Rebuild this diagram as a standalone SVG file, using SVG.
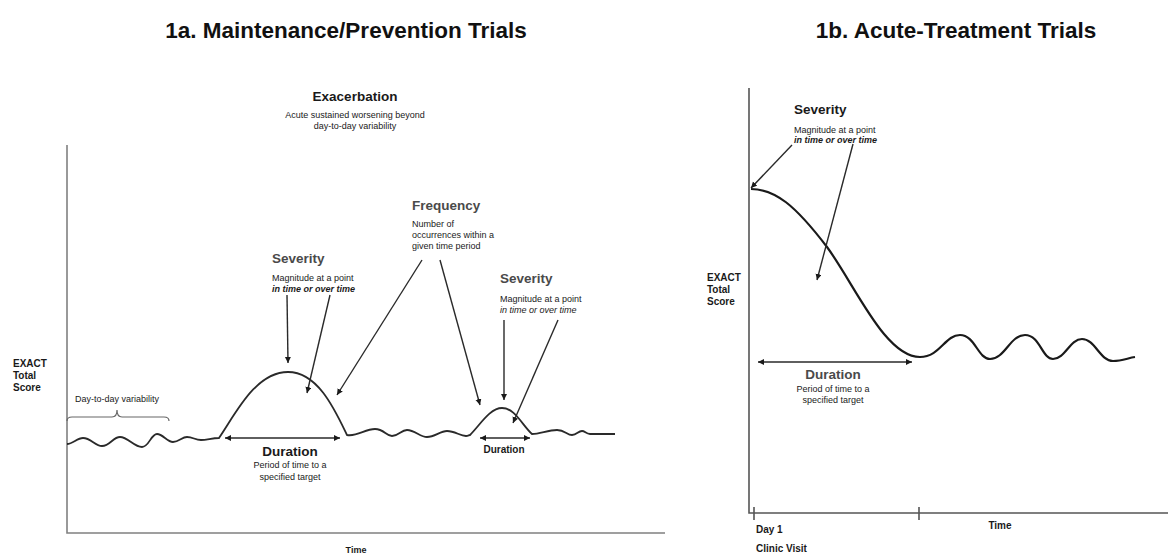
<svg xmlns="http://www.w3.org/2000/svg" width="1168" height="553" viewBox="0 0 1168 553">
<style>
text{font-family:"Liberation Sans",Arial,sans-serif;fill:#1a1a1a}
.title{font-size:22.5px;font-weight:bold;text-anchor:middle;fill:#111}
.head{font-size:13.5px;font-weight:bold}
.headc{font-size:13.5px;font-weight:bold;text-anchor:middle}
.gray{fill:#4a4a4a}
.small{font-size:9px}
.smallc{font-size:9px;text-anchor:middle}
.it{font-style:italic}
.ax{font-size:10px;font-weight:bold}
.axis{stroke:#808080;stroke-width:1.6;fill:none}
.axis2{stroke:#555;stroke-width:1.6;fill:none}
.curve{stroke:#2a2a2a;stroke-width:1.8;fill:none}
.curve2{stroke:#1a1a1a;stroke-width:2.2;fill:none}
.arr{stroke:#2a2a2a;stroke-width:1.4;fill:none;marker-end:url(#ah)}
.dbl{stroke:#2a2a2a;stroke-width:1.4;fill:none;marker-end:url(#ah);marker-start:url(#ah)}
</style>
<defs>
<marker id="ah" markerUnits="userSpaceOnUse" markerWidth="7" markerHeight="7" refX="6" refY="3" orient="auto-start-reverse">
<path d="M0,0 L6,3 L0,6 z" fill="#1a1a1a"/>
</marker>
</defs>
<rect width="1168" height="553" fill="#fff"/>

<g id="title-1a"><text class="title" x="346" y="38">1a. Maintenance/Prevention Trials</text></g>
<g id="title-1b"><text class="title" x="956" y="38">1b. Acute-Treatment Trials</text></g>

<g id="panel-1a">
<g id="axes-1a">
<path class="axis" d="M67,145 L67,533 L665,533"/>
<text class="ax" x="13" y="367">EXACT</text>
<text class="ax" x="13" y="379">Total</text>
<text class="ax" x="13" y="391">Score</text>
<text x="356" y="553" font-size="9" font-weight="bold" text-anchor="middle">Time</text>
</g>
<g id="exacerbation">
<text class="headc" x="355" y="101">Exacerbation</text>
<text class="smallc" x="355" y="118">Acute sustained worsening beyond</text>
<text class="smallc" x="355" y="129">day-to-day variability</text>
</g>
<g id="variability">
<path d="M67,421 Q67,417 72,417 L112,417 Q117,417 117,410 Q117,417 122,417 L164,417 Q169,417 169,421" stroke="#666" stroke-width="1.2" fill="none"/>
<text class="smallc" x="117" y="402" fill="#444">Day-to-day variability</text>
</g>
<g id="severity-1">
<text class="head gray" x="272" y="263">Severity</text>
<text class="small" x="272" y="281">Magnitude at a point</text>
<text class="small it" x="272" y="292" font-weight="bold">in time or over time</text>
</g>
<g id="frequency">
<text class="head gray" x="412" y="210">Frequency</text>
<text class="small" x="412" y="227">Number of</text>
<text class="small" x="412" y="238">occurrences within a</text>
<text class="small" x="412" y="249">given time period</text>
</g>
<g id="severity-2">
<text class="head gray" x="500" y="283">Severity</text>
<text class="small" x="500" y="302">Magnitude at a point</text>
<text class="small it" x="500" y="313">in time or over time</text>
</g>
<g id="duration-1">
<text class="headc" x="290" y="456">Duration</text>
<text class="smallc" x="290" y="468">Period of time to a</text>
<text class="smallc" x="290" y="480">specified target</text>
</g>
<g id="duration-2">
<text x="504" y="453" font-size="10" font-weight="bold" text-anchor="middle" fill="#333">Duration</text>
</g>
<g id="curve-1a">
<path class="curve" d="M67,444 C73,444 77,438 83,438 C91,438 95,446 102,446 C110,446 113,437 120,437 C128,437 134,447 142,447 C149,447 151,434 157,434 C163,434 167,442 173,442 C179,442 182,437 187,437 C193,437 195,440 201,440 C207,440 212,438 219,438 C235,415 255,372 288,372 C318,372 335,410 347,435 C357,437 365,429 375,429 C384,429 386,436 392,436 C399,436 401,430 407,430 C415,430 420,437 427,437 C435,437 440,431 447,431 C455,431 460,436 466,436 C468,436 469,435 470,435 C480,425 490,408 502,408 C515,408 522,425 532,434 C540,434 548,430 557,430 C565,430 567,435 572,435 C577,435 578,431 582,431 C585,431 586,434 590,434 L615,434"/>
</g>
</g>

<g id="panel-1b">
<g id="axes-1b">
<path class="axis2" d="M749,88 L749,513 L1168,513"/>
<path class="axis2" d="M754,507 L754,520 M919,507 L919,520"/>
<text class="ax" x="707" y="281">EXACT</text>
<text class="ax" x="707" y="293">Total</text>
<text class="ax" x="707" y="305">Score</text>
<text class="ax" x="1000" y="529" text-anchor="middle">Time</text>
<text class="ax" x="756" y="533">Day 1</text>
<text class="ax" x="756" y="552">Clinic Visit</text>
</g>
<g id="severity-3">
<text class="head" x="794" y="114">Severity</text>
<text class="small" x="794" y="133">Magnitude at a point</text>
<text class="small it" x="794" y="143" font-weight="bold">in time or over time</text>
</g>
<g id="duration-3">
<text class="headc gray" x="833" y="379">Duration</text>
<text class="smallc" x="833" y="392">Period of time to a</text>
<text class="smallc" x="833" y="403">specified target</text>
</g>
<g id="curve-1b">
<path class="curve2" d="M751,189 C775,189 795,205 827,247 C855,285 885,357 920,357 C940,357 945,335 960,335 C975,335 978,359 990,359 C1005,359 1010,335 1025,335 C1040,335 1042,359 1053,359 C1065,359 1070,339 1082,339 C1095,339 1100,361 1113,361 C1122,361 1128,358 1135,357"/>
</g>
</g>

<g id="connectors">
<path class="arr" d="M287,295 L288,363"/>
<path class="arr" d="M330,295 L307,393"/>
<path class="arr" d="M422,260 L337,395"/>
<path class="arr" d="M440,260 L480,405"/>
<path class="arr" d="M504,320 L504,400"/>
<path class="arr" d="M558,320 L513,423"/>
<path class="dbl" d="M225,438 L340,438"/>
<path class="dbl" d="M480,438 L530,438"/>
<path class="arr" d="M792,145 L751,188"/>
<path class="arr" d="M853,144 L817,280"/>
<path class="dbl" d="M758,362 L912,362"/>
</g>
</svg>
